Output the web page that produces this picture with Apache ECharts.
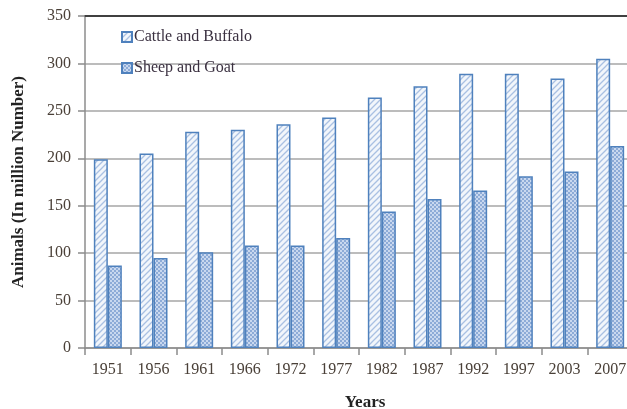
<!DOCTYPE html>
<html lang="en">
<head>
    <meta charset="UTF-8">
    <title>Animals</title>
    <script src="https://cdn.jsdelivr.net/npm/echarts@6/dist/echarts.min.js"></script>
    <style>
        html, body { margin: 0; padding: 0; background: #fff; overflow: hidden; }
    </style>
</head>
<body>
<div id="main" style="width: 627px;height:409px;"></div>
<script type="text/javascript">
    var years = ['1951', '1956', '1961', '1966', '1972', '1977', '1982', '1987', '1992', '1997', '2003', '2007'];
    var cattle = [199, 205, 228, 230, 236, 243, 264, 276, 289, 289, 284, 305];
    var sheep = [87, 95, 101, 108, 108, 116, 144, 157, 166, 181, 186, 213];
    var yTicks = [0, 50, 100, 150, 200, 250, 300, 350];

    // hatch fill for the cattle bars
    function hatchPattern() {
        var c = document.createElement('canvas');
        c.width = 6; c.height = 6;
        var ctx = c.getContext('2d');
        ctx.fillStyle = '#f2f6fb';
        ctx.fillRect(0, 0, 6, 6);
        ctx.strokeStyle = '#a9c0e2';
        ctx.lineWidth = 1.3;
        ctx.beginPath();
        ctx.moveTo(0, 6); ctx.lineTo(6, 0);
        ctx.moveTo(-3, 3); ctx.lineTo(3, -3);
        ctx.moveTo(3, 9); ctx.lineTo(9, 3);
        ctx.stroke();
        return c;
    }
    // checkered fill for the sheep bars
    function checkPattern() {
        var c = document.createElement('canvas');
        c.width = 4; c.height = 4;
        var ctx = c.getContext('2d');
        ctx.fillStyle = '#c9d8ef';
        ctx.fillRect(0, 0, 4, 4);
        ctx.fillStyle = '#8dabd7';
        ctx.fillRect(0, 0, 2, 2);
        ctx.fillRect(2, 2, 2, 2);
        return c;
    }

    var myChart = echarts.init(document.getElementById('main'));
    var serif = '"Liberation Serif", "DejaVu Serif", serif';
    var option = {
        animation: false,
        // plot runs a little past the right edge, as in the source image
        grid: {left: 85, right: -6, top: 16, bottom: 61, outerBoundsMode: 'none'},
        legend: {
            orient: 'vertical',
            left: 116,
            top: 24,
            itemWidth: 10,
            itemHeight: 10,
            itemGap: 15,
            icon: 'rect',
            textStyle: {fontFamily: serif, fontSize: 16, color: '#3a3040', padding: [0, 0, 0, -3]},
            data: ['Cattle and Buffalo', 'Sheep and Goat']
        },
        xAxis: [{
            type: 'category',
            data: years,
            name: 'Years',
            nameLocation: 'middle',
            nameGap: 46,
            nameTextStyle: {fontFamily: serif, fontSize: 17, fontWeight: 'bold', color: '#222', padding: [0, 0, 0, 12]},
            axisLine: {lineStyle: {color: '#8c8c8c', width: 1.5}},
            axisTick: {show: true, length: 7, lineStyle: {color: '#8c8c8c', width: 1.5}},
            axisLabel: {fontFamily: serif, fontSize: 16, color: '#4a4038', margin: 14}
        }, {
            type: 'category',
            data: years,
            position: 'top',
            axisLine: {lineStyle: {color: '#404040', width: 2}},
            axisTick: {show: false},
            axisLabel: {show: false}
        }],
        yAxis: {
            type: 'value',
            min: 0,
            max: yTicks[yTicks.length - 1],
            interval: yTicks[1] - yTicks[0],
            name: 'Animals (In million Number)',
            nameLocation: 'middle',
            nameGap: 58,
            nameTextStyle: {fontFamily: serif, fontSize: 17, fontWeight: 'bold', color: '#222'},
            axisLine: {show: true, lineStyle: {color: '#8c8c8c', width: 1.5}},
            axisTick: {show: true, length: 7, lineStyle: {color: '#8c8c8c', width: 1.5}},
            axisLabel: {fontFamily: serif, fontSize: 16, color: '#4a4038', margin: 14},
            splitLine: {lineStyle: {color: '#a6a6a6', width: 1.5}}
        },
        series: [{
            name: 'Cattle and Buffalo',
            type: 'bar',
            data: cattle,
            barWidth: 14,
            barGap: '0%',
            itemStyle: {color: {image: hatchPattern(), repeat: 'repeat'}, borderColor: '#4f81bd', borderWidth: 1.5}
        }, {
            name: 'Sheep and Goat',
            type: 'bar',
            data: sheep,
            barWidth: 14,
            barGap: '0%',
            itemStyle: {color: {image: checkPattern(), repeat: 'repeat'}, borderColor: '#4f81bd', borderWidth: 1.5}
        }]
    };
    myChart.setOption(option);
</script>
</body>
</html>
